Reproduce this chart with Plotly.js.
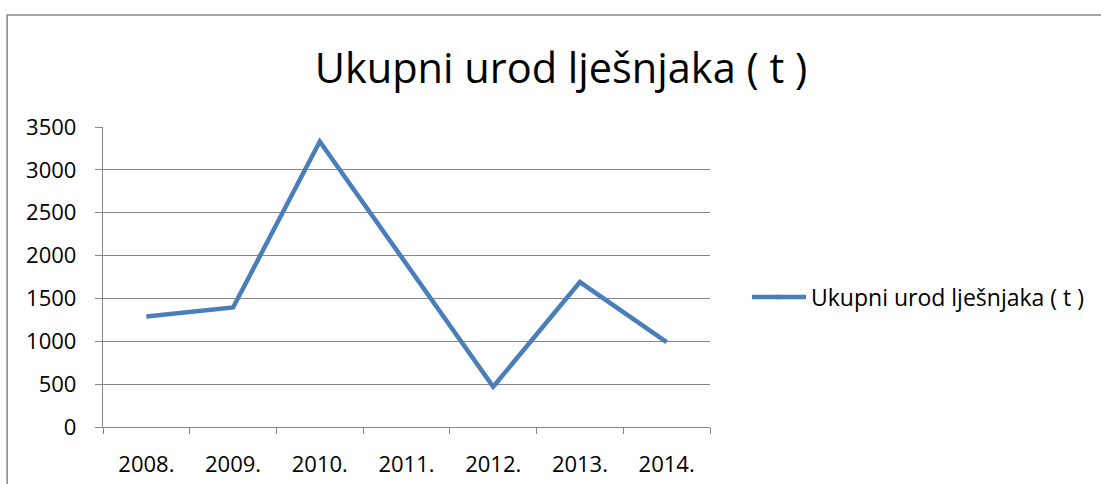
<!DOCTYPE html>
<html>
<head>
<meta charset="utf-8">
<script src="https://cdn.plot.ly/plotly-3.0.1.min.js"></script>
<style>
html,body{margin:0;padding:0;background:#fff;}
#chart{width:1101px;height:484px;}
</style>
</head>
<body>
<div id="chart"></div>
<script>
const seriesName = 'Ukupni urod lješnjaka ( t )';
const years = ['2008.', '2009.', '2010.', '2011.', '2012.', '2013.', '2014.'];
const harvest = [1290, 1395, 3330, 1900, 470, 1690, 990];
const yTicks = [0, 500, 1000, 1500, 2000, 2500, 3000, 3500];

const FONT = 'Open Sans, Noto Sans, sans-serif';
const LINE_COLOR = '#4A7EBB';
const AXIS_COLOR = '#868686';
const L = 103, R = 711, T = 127, B = 427, W = 1101, H = 484;
const px = v => (v - L) / (R - L);
const py = v => (B - v) / (B - T);

const trace = {
  x: years,
  y: harvest,
  name: seriesName,
  type: 'scatter',
  mode: 'lines',
  line: {color: LINE_COLOR, width: 4.5},
  hoverinfo: 'x+y'
};

const layout = {
  width: W, height: H,
  margin: {l: L, r: W - R, t: T, b: H - B},
  paper_bgcolor: '#fff',
  plot_bgcolor: '#fff',
  font: {family: FONT, color: '#000', size: 22},
  title: {
    text: seriesName,
    font: {family: FONT, size: 41.5, color: '#000'},
    x: 561 / W, xanchor: 'center', xref: 'container',
    y: 1 - 68 / H, yanchor: 'middle', yref: 'container'
  },
  xaxis: {
    type: 'category',
    range: [-0.5, 6.5],
    tickson: 'boundaries',
    ticks: 'outside', ticklen: 6, tickcolor: AXIS_COLOR, tickwidth: 1,
    showline: true, linecolor: AXIS_COLOR, linewidth: 1.2,
    showgrid: false, zeroline: false,
    tickfont: {family: FONT, size: 22, color: '#000'},
    ticklabelstandoff: 17,
    fixedrange: true
  },
  yaxis: {
    range: [0, 3500],
    tickvals: yTicks,
    ticks: 'outside', ticklen: 7, tickcolor: AXIS_COLOR, tickwidth: 1,
    showline: true, linecolor: AXIS_COLOR, linewidth: 1.2,
    showgrid: true, gridcolor: AXIS_COLOR, gridwidth: 1.2,
    zeroline: false,
    tickfont: {family: FONT, size: 22, color: '#000'},
    ticklabelstandoff: 14,
    fixedrange: true
  },
  showlegend: true,
  legend: {
    x: px(771), xanchor: 'left',
    y: py(297), yanchor: 'middle',
    font: {family: FONT, size: 23, color: '#000'},
    bgcolor: 'rgba(0,0,0,0)'
  },
  shapes: [{
    type: 'rect', xref: 'paper', yref: 'paper',
    x0: px(7), x1: px(1120), y0: py(15), y1: py(500),
    line: {color: AXIS_COLOR, width: 1.5},
    fillcolor: 'rgba(0,0,0,0)',
    layer: 'below'
  }, {
    type: 'line', xref: 'paper', yref: 'paper',
    x0: px(753), x1: px(780), y0: py(297), y1: py(297),
    line: {color: LINE_COLOR, width: 4.5}
  }]
};

Plotly.newPlot('chart', [trace], layout, {displayModeBar: false, staticPlot: true});
</script>
</body>
</html>
